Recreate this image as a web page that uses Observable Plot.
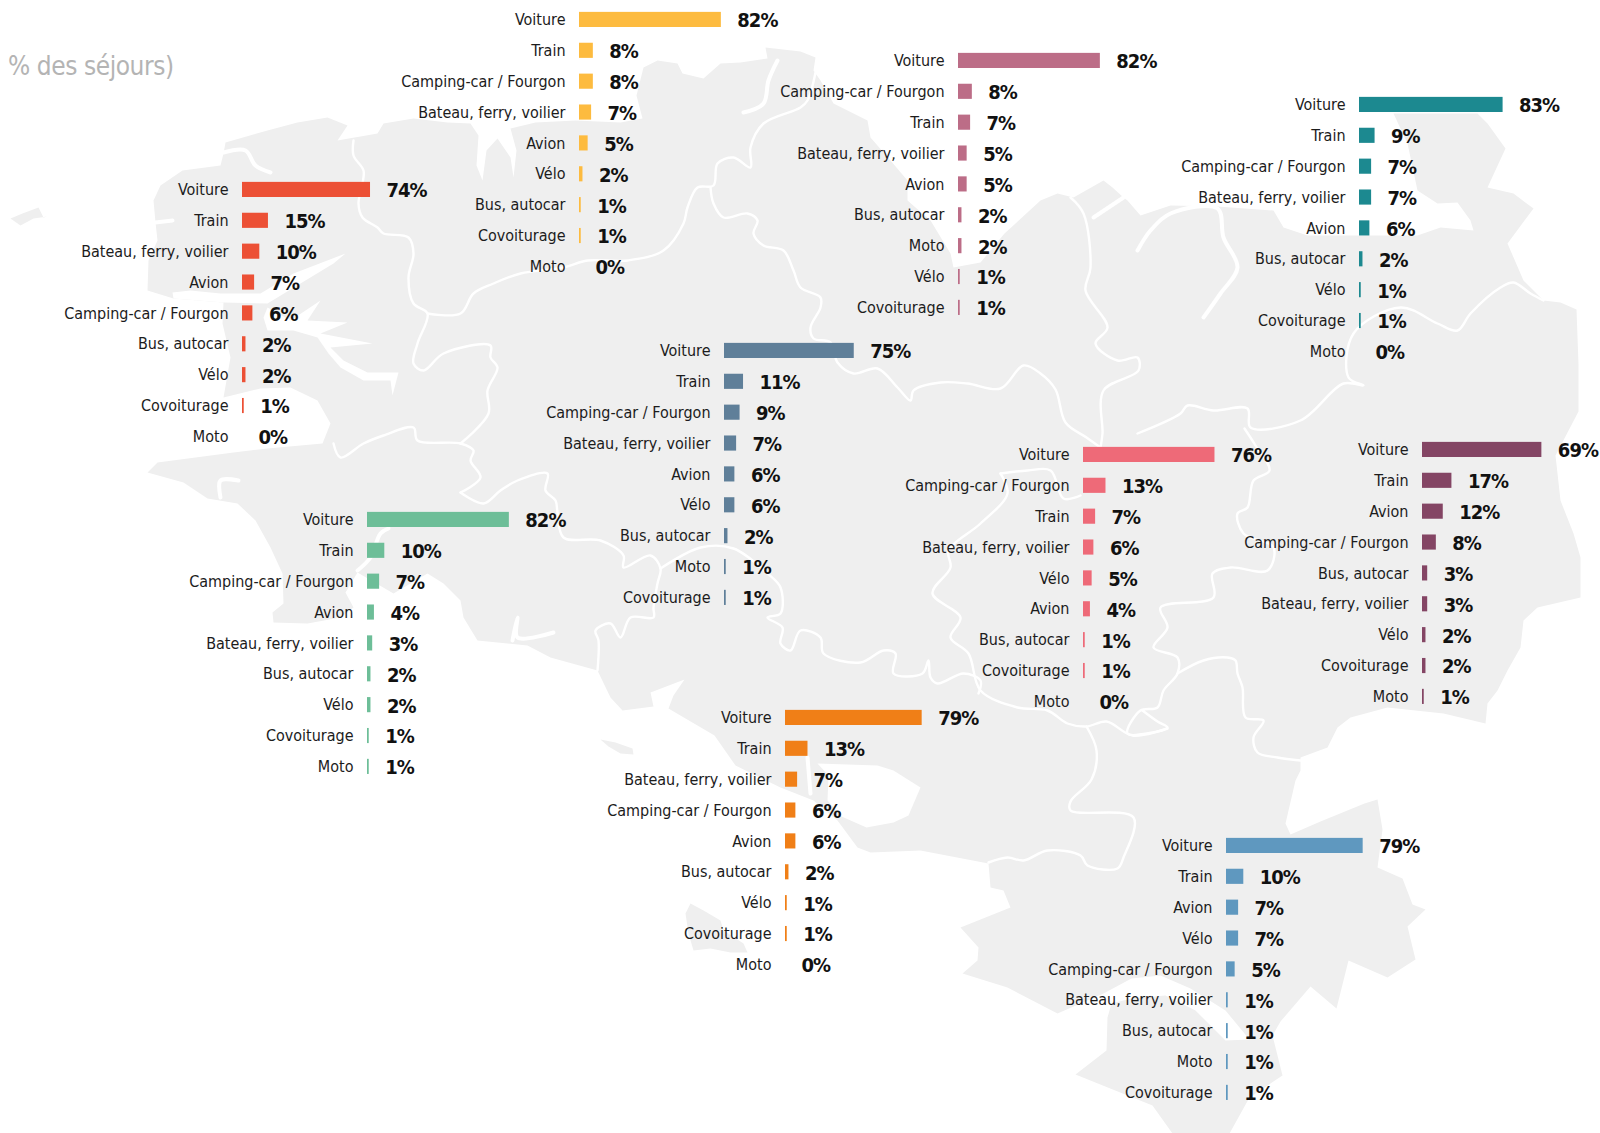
<!DOCTYPE html>
<html lang="fr">
<head>
<meta charset="utf-8">
<title>Modes de transport par région</title>
<script src="https://cdn.jsdelivr.net/npm/d3@7"></script>
<script src="https://cdn.jsdelivr.net/npm/@observablehq/plot@0.6"></script>
<style>
  html, body { margin: 0; padding: 0; background: #fff; }
  #stage { position: relative; width: 1600px; height: 1133px; overflow: hidden; }
  #stage > svg { position: absolute; }
  #title { position: absolute; left: 8px; top: 51px; font: 26px "DejaVu Sans Condensed", "DejaVu Sans", sans-serif; letter-spacing: -0.43px; color: #b4b4b4; white-space: nowrap; }
  g[font-weight="bold"] text { letter-spacing: -1px; }
</style>
</head>
<body>
<div id="stage"><div id="title">% des séjours)</div></div>
<script>
// ---------- chart values ----------
const yellowLabels = ["Voiture","Train","Camping-car / Fourgon","Bateau, ferry, voilier","Avion","Vélo","Bus, autocar","Covoiturage","Moto"];
const yellowValues = [82,8,8,7,5,2,1,1,0];
const redLabels = ["Voiture","Train","Bateau, ferry, voilier","Avion","Camping-car / Fourgon","Bus, autocar","Vélo","Covoiturage","Moto"];
const redValues = [74,15,10,7,6,2,2,1,0];
const pinkLabels = ["Voiture","Camping-car / Fourgon","Train","Bateau, ferry, voilier","Avion","Bus, autocar","Moto","Vélo","Covoiturage"];
const pinkValues = [82,8,7,5,5,2,2,1,1];
const tealLabels = ["Voiture","Train","Camping-car / Fourgon","Bateau, ferry, voilier","Avion","Bus, autocar","Vélo","Covoiturage","Moto"];
const tealValues = [83,9,7,7,6,2,1,1,0];
const slateLabels = ["Voiture","Train","Camping-car / Fourgon","Bateau, ferry, voilier","Avion","Vélo","Bus, autocar","Moto","Covoiturage"];
const slateValues = [75,11,9,7,6,6,2,1,1];
const greenLabels = ["Voiture","Train","Camping-car / Fourgon","Avion","Bateau, ferry, voilier","Bus, autocar","Vélo","Covoiturage","Moto"];
const greenValues = [82,10,7,4,3,2,2,1,1];
const coralLabels = ["Voiture","Camping-car / Fourgon","Train","Bateau, ferry, voilier","Vélo","Avion","Bus, autocar","Covoiturage","Moto"];
const coralValues = [76,13,7,6,5,4,1,1,0];
const plumLabels = ["Voiture","Train","Avion","Camping-car / Fourgon","Bus, autocar","Bateau, ferry, voilier","Vélo","Covoiturage","Moto"];
const plumValues = [69,17,12,8,3,3,2,2,1];
const orangeLabels = ["Voiture","Train","Bateau, ferry, voilier","Camping-car / Fourgon","Avion","Bus, autocar","Vélo","Covoiturage","Moto"];
const orangeValues = [79,13,7,6,6,2,1,1,0];
const blueLabels = ["Voiture","Train","Avion","Vélo","Camping-car / Fourgon","Bateau, ferry, voilier","Bus, autocar","Moto","Covoiturage"];
const blueValues = [79,10,7,7,5,1,1,1,1];

// ---------- map outlines (map units) ----------
const coast = [[147,290],[148,260],[157,240],[155,222],[153,200],[160,185],[182,170],[220,165],[223,153],[225,142],[267,130],[297,122],[327,117],[347,125],[337,140],[377,133],[383,123],[413,118],[447,122],[470,123],[478,135],[476,165],[482,180],[486,150],[497,138],[510,157],[513,177],[516,150],[510,128],[535,122],[575,120],[620,122],[642,118],[636,95],[643,67],[657,60],[677,63],[682,73],[703,78],[720,63],[740,62],[767,58],[765,47],[800,51],[815,57],[813,70],[820,80],[833,103],[867,120],[870,137],[890,160],[907,180],[907,200],[930,220],[950,253],[953,267],[980,262],[1004,233],[1040,200],[1057,193],[1073,197],[1103,180],[1112,187],[1123,197],[1127,200],[1140,215],[1170,205],[1217,206],[1273,210],[1283,227],[1307,235],[1417,235],[1440,227],[1473,230],[1470,220],[1457,202],[1437,203],[1417,190],[1407,143],[1393,113],[1477,113],[1487,123],[1505,148],[1487,187],[1513,193],[1533,208],[1507,243],[1523,280],[1543,300],[1560,302],[1576,309],[1578,364],[1578,411],[1555,455],[1560,500],[1573,533],[1580,557],[1580,597],[1537,607],[1523,620],[1520,647],[1507,670],[1497,690],[1487,703],[1485,723],[1443,713],[1387,707],[1350,717],[1337,727],[1327,747],[1300,757],[1300,770],[1295,780],[1285,823],[1290,834],[1320,821],[1364,803],[1377,799],[1382,829],[1377,867],[1402,878],[1412,904],[1425,909],[1407,926],[1415,959],[1387,977],[1348,960],[1336,1008],[1310,986],[1280,1021],[1272,1035],[1282,1075],[1249,1097],[1229,1133],[1172,1133],[1152,1105],[1075,1074],[1106,1050],[1107,1017],[1111,1003],[1131,998],[1165,995],[1195,1010],[1225,1040],[1249,1039],[1225,1010],[1190,988],[1160,975],[1131,978],[1103,993],[1057,1013],[1007,987],[962,973],[977,960],[978,947],[960,927],[1010,907],[1003,890],[990,887],[988,863],[920,850],[870,852],[857,847],[837,820],[813,800],[780,787],[735,765],[714,735],[668,708],[673,695],[684,679],[650,692],[653,706],[622,710],[610,697],[597,670],[550,657],[527,645],[477,640],[463,617],[460,600],[443,583],[427,573],[393,593],[357,572],[345,592],[353,607],[340,617],[307,623],[273,622],[272,612],[283,603],[282,573],[270,547],[255,520],[237,503],[207,498],[183,482],[147,472],[157,462],[233,452],[267,448],[322,443],[330,423],[317,400],[290,387],[260,388],[223,397],[230,357],[222,323],[223,302],[173,298]];
const ouessant = [[10,218],[22,213],[38,207],[43,217],[47,216],[33,218],[20,225]];
const smallIsle = [[600,739],[615,742],[632,748],[633,754],[620,753],[608,746]];
const southIsle = [[690,903],[703,910],[720,920],[723,930],[743,943],[747,952],[730,952],[710,948],[693,950],[688,933],[685,913]];
const land = [coast, ouessant, smallIsle, southIsle];

const fjordNorth = [[172,292],[190,290],[220,293],[260,293],[293,273],[345,253],[333,263],[300,283],[267,303],[223,302],[173,298]];
const fjordFingers = [[267,307],[290,320],[320,300],[307,320],[347,322],[320,333],[372,343],[330,347],[343,360],[367,372],[398,372],[392,395],[390,380],[363,380],[340,367],[328,353],[317,337],[293,330],[267,330],[263,317]];
const lagoon = [[817,763],[877,765],[893,770],[920,787],[908,815],[893,822],[866,827],[841,816],[827,800],[828,775]];
const water = [fjordNorth, fjordFingers, lagoon];

const borders = [
  [[353,140],[353,155],[363,170],[362,183],[358,203],[362,217],[377,227],[383,233],[408,237],[413,253],[408,277],[413,303],[427,313],[417,343],[413,363],[423,370],[443,353],[490,345],[490,357],[497,367],[487,390],[488,413],[460,443]],
  [[427,313],[460,313],[473,293],[493,283],[520,273],[563,267],[587,260],[627,260],[663,250],[683,223],[687,207],[697,187],[713,185],[717,163],[733,157],[750,167],[750,147],[763,123],[800,107],[807,100],[815,72]],
  [[710,187],[713,203],[723,217],[747,213],[757,220],[753,233],[763,245],[783,250],[793,270],[800,287],[820,297],[820,307],[810,327],[813,338],[830,342],[837,362],[853,373],[877,368],[897,387],[910,400],[913,390],[940,382],[967,383],[1000,388],[1023,365],[1040,373],[1055,389],[1065,422],[1086,437],[1100,447]],
  [[1070,197],[1083,213],[1090,267],[1085,290],[1107,327],[1095,343],[1117,360],[1137,357],[1138,370],[1103,390],[1102,433],[1100,447]],
  [[1137,433],[1180,413],[1187,405],[1213,410],[1247,408],[1250,427],[1300,420],[1343,383],[1363,385],[1348,377],[1353,333],[1400,307],[1437,323],[1457,330],[1470,313],[1500,287],[1513,282],[1530,293],[1543,300]],
  [[1244,428],[1255,445],[1269,470],[1253,480],[1247,507],[1237,513],[1243,533],[1273,547],[1267,570],[1230,567],[1212,573],[1213,597],[1160,607],[1167,627],[1153,647],[1177,657],[1177,673],[1163,690],[1157,707],[1140,710],[1127,733],[1167,727],[1157,721],[1142,710]],
  [[1177,673],[1203,660],[1227,657],[1235,660],[1237,673],[1242,687],[1245,717],[1263,720],[1253,737],[1257,752],[1277,757],[1300,760]],
  [[1000,473],[1027,470],[1050,470],[1063,498],[1080,495]],
  [[1000,473],[1007,493],[980,523],[948,550],[950,567],[932,593],[960,617],[950,637],[968,653],[980,690],[1017,707],[1047,710],[1067,723],[1086,726],[1106,721],[1132,735],[1167,728]],
  [[1086,726],[1096,750],[1091,779],[1070,801],[1070,810],[1133,817],[1123,857],[1117,868],[1087,865],[1080,855],[1047,850],[1023,860],[1007,857],[988,862]],
  [[460,492],[483,503],[500,490],[517,480],[547,473],[545,490],[555,500],[557,512],[563,537],[600,540],[623,555],[623,567],[650,555],[660,568],[657,583],[653,607],[653,617],[630,617],[620,637],[610,623],[595,630],[598,640],[597,670]],
  [[660,568],[700,547],[733,548],[767,573],[780,587],[780,613],[767,617],[782,627],[780,643],[790,650],[800,630],[820,637],[823,653],[860,662],[883,650],[895,653],[893,673],[922,673],[928,660],[930,677],[937,683],[963,673],[980,680],[978,693]],
  [[460,492],[480,477],[470,460],[473,450],[460,443],[417,440],[413,427],[383,435],[363,443],[340,457],[333,443]]
];
const rivers = [
  [[223,152],[245,150],[255,165],[270,172]],
  [[155,222],[172,220]],
  [[357,570],[370,557],[380,533],[388,528]],
  [[220,497],[220,480],[238,480]],
  [[512,640],[517,617],[517,637],[553,632]],
  [[743,112],[763,103],[768,80],[777,60]],
  [[807,757],[810,793]],
  [[1137,250],[1150,230],[1170,213],[1217,208],[1223,237],[1237,267],[1220,293],[1203,317]],
  [[1093,217],[1123,197]]
];

// ---------- page layout ----------
const panelList = [
  {labels: yellowLabels, values: yellowValues, color: "#FDBB3F", left: 578.5, top: 19.5},
  {labels: redLabels,    values: redValues,    color: "#EC5035", left: 242,   top: 189.3},
  {labels: pinkLabels,   values: pinkValues,   color: "#BC6D87", left: 958,   top: 60.3},
  {labels: tealLabels,   values: tealValues,   color: "#1C8990", left: 1359,  top: 104.3},
  {labels: slateLabels,  values: slateValues,  color: "#5F7F99", left: 724,   top: 350.3},
  {labels: greenLabels,  values: greenValues,  color: "#6DBE98", left: 367,   top: 519.3},
  {labels: coralLabels,  values: coralValues,  color: "#EE6A78", left: 1083,  top: 454.3},
  {labels: plumLabels,   values: plumValues,   color: "#844564", left: 1422,  top: 449.3},
  {labels: orangeLabels, values: orangeValues, color: "#F07F17", left: 785,   top: 717.3},
  {labels: blueLabels,   values: blueValues,   color: "#5F98BF", left: 1226,  top: 845.3}
];
const fontStack = "'DejaVu Sans Condensed', 'DejaVu Sans', sans-serif";
const stage = document.getElementById("stage");

// background map
const mapPlot = Plot.plot({
  width: 1600, height: 1133, margin: 0,
  x: {domain: [0, 1600], range: [0, 1600], axis: null},
  y: {domain: [0, 1133], range: [0, 1133], axis: null},
  marks: [
    ...land.map(p => Plot.line(p, {x: d => d[0], y: d => d[1], fill: "#EFEFEF", stroke: "none"})),
    ...water.map(p => Plot.line(p, {x: d => d[0], y: d => d[1], fill: "#FFFFFF", stroke: "none"})),
    ...borders.map(p => Plot.line(p, {x: d => d[0], y: d => d[1], stroke: "#FFFFFF", strokeWidth: 2.4, strokeLinejoin: "round", curve: "catmull-rom"})),
    ...rivers.map(p => Plot.line(p, {x: d => d[0], y: d => d[1], stroke: "#FFFFFF", strokeWidth: 4, strokeLinejoin: "round", curve: "catmull-rom"}))
  ]
});
mapPlot.style.left = "0px"; mapPlot.style.top = "0px";
stage.insertBefore(mapPlot, stage.firstChild);

// one small bar chart per region
const labelGutter = 200, barSpan = 173, rightRoom = 127, rowStep = 30.87;
for (const p of panelList) {
  const rows = p.labels.map((name, i) => ({name, value: p.values[i]}));
  const chart = Plot.plot({
    width: labelGutter + barSpan + rightRoom,
    height: rowStep * rows.length,
    marginLeft: labelGutter, marginRight: rightRoom, marginTop: 0, marginBottom: 0,
    style: {fontFamily: fontStack, overflow: "visible", background: "transparent"},
    x: {domain: [0, 100], axis: null},
    y: {domain: p.labels, round: false, paddingInner: 0.51, paddingOuter: 0.255, axis: null},
    marks: [
      Plot.barX(rows, {x: "value", y: "name", fill: p.color}),
      Plot.axisY({tickSize: 0, tickPadding: 14, label: null, fontSize: 16, fill: "#1c1c1c"}),
      Plot.text(rows, {x: "value", y: "name", text: d => d.value + "%", dx: 16, dy: 1, textAnchor: "start", fontSize: 20, fontWeight: "bold", fill: "#111"})
    ]
  });
  chart.style.left = (p.left - labelGutter) + "px";
  chart.style.top = (p.top - rowStep / 2) + "px";
  stage.appendChild(chart);
}
</script>
</body>
</html>
